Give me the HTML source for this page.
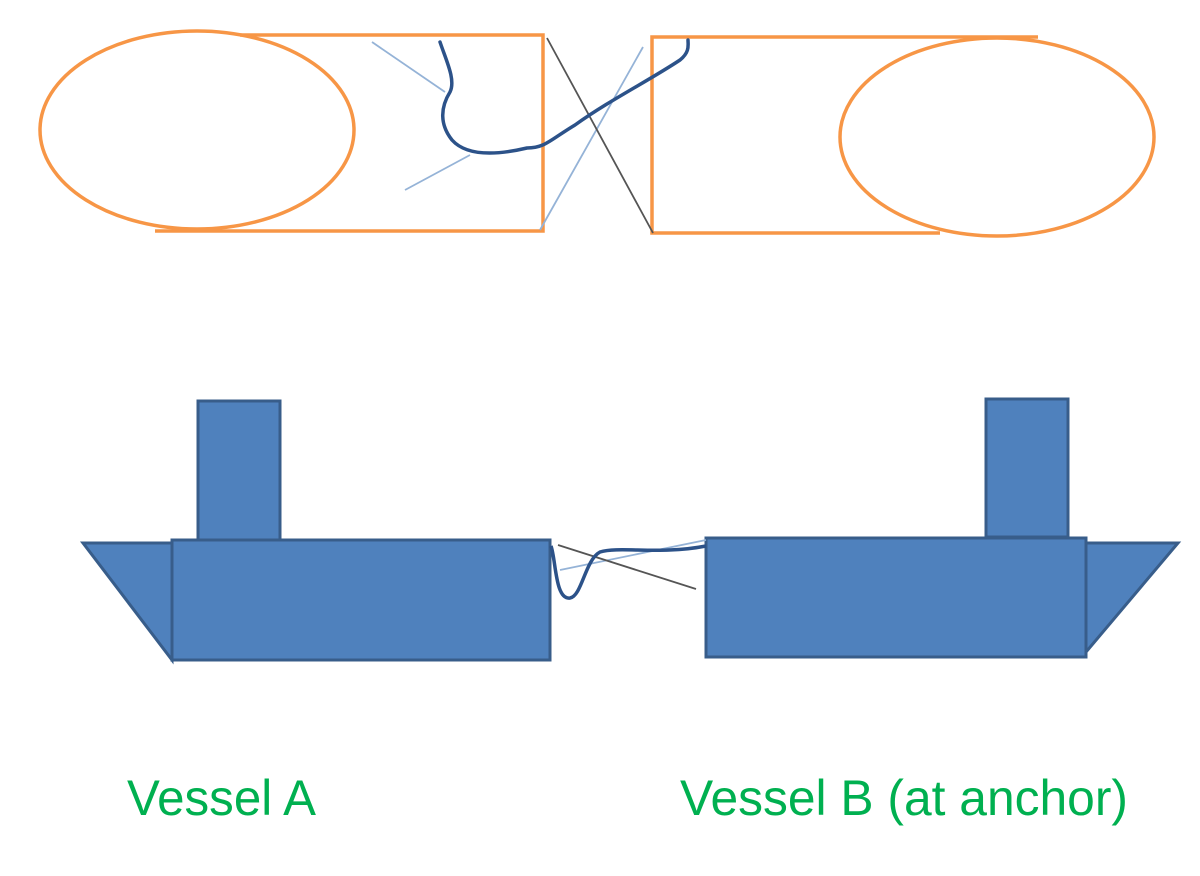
<!DOCTYPE html>
<html><head><meta charset="utf-8"><style>html,body{margin:0;padding:0;background:#fff;}svg{display:block}</style></head>
<body>
<svg width="1200" height="876" viewBox="0 0 1200 876" xmlns="http://www.w3.org/2000/svg">
<g fill="none" stroke="#f79646" stroke-width="3.5">
  <path d="M240 35 H543 V231 H155"/>
  <ellipse cx="197" cy="130" rx="157" ry="99"/>
  <path d="M1038 37 H652 V233 H940"/>
  <ellipse cx="997" cy="137" rx="157" ry="99"/>
</g>
<g stroke="#95b3d7" stroke-width="1.8" fill="none">
  <line x1="372" y1="42" x2="445" y2="92"/>
  <line x1="405" y1="190" x2="470" y2="155"/>
  <line x1="540" y1="230" x2="643" y2="47"/>
</g>
<line x1="547" y1="38" x2="653" y2="233" stroke="#555" stroke-width="1.8"/>
<path d="M440 42 C446 60 456 80 450 92 C440 108 440 125 452 140 C470 160 510 152 527 148 C545 148 550 140 575 125 C610 100 650 80 680 60 C690 52 688 45 688 40" fill="none" stroke="#2c5289" stroke-width="3.5" stroke-linecap="round"/>
<g fill="#4f81bd" stroke="#385d8a" stroke-width="3">
  <rect x="198" y="401" width="82" height="139"/>
  <polygon points="83,543 172,543 172,660"/>
  <rect x="172" y="540" width="378" height="120"/>
  <rect x="986" y="399" width="82" height="138"/>
  <polygon points="1086,543 1178,543 1086,652"/>
  <rect x="706" y="538" width="380" height="119"/>
</g>
<line x1="560" y1="570" x2="706" y2="540" stroke="#95b3d7" stroke-width="1.8"/>
<line x1="558" y1="545" x2="696" y2="589" stroke="#555" stroke-width="1.8"/>
<path d="M551 546 C556 560 555 600 570 598 C582 596 585 560 600 552 C620 546 660 555 706 546" fill="none" stroke="#2c5289" stroke-width="3.5"/>
<g fill="#00b050" font-family="Liberation Sans, sans-serif" font-size="50">
  <text x="127" y="815" textLength="189" lengthAdjust="spacingAndGlyphs">Vessel A</text>
  <text x="680" y="815" textLength="448" lengthAdjust="spacingAndGlyphs">Vessel B (at anchor)</text>
</g>
</svg>
</body></html>
